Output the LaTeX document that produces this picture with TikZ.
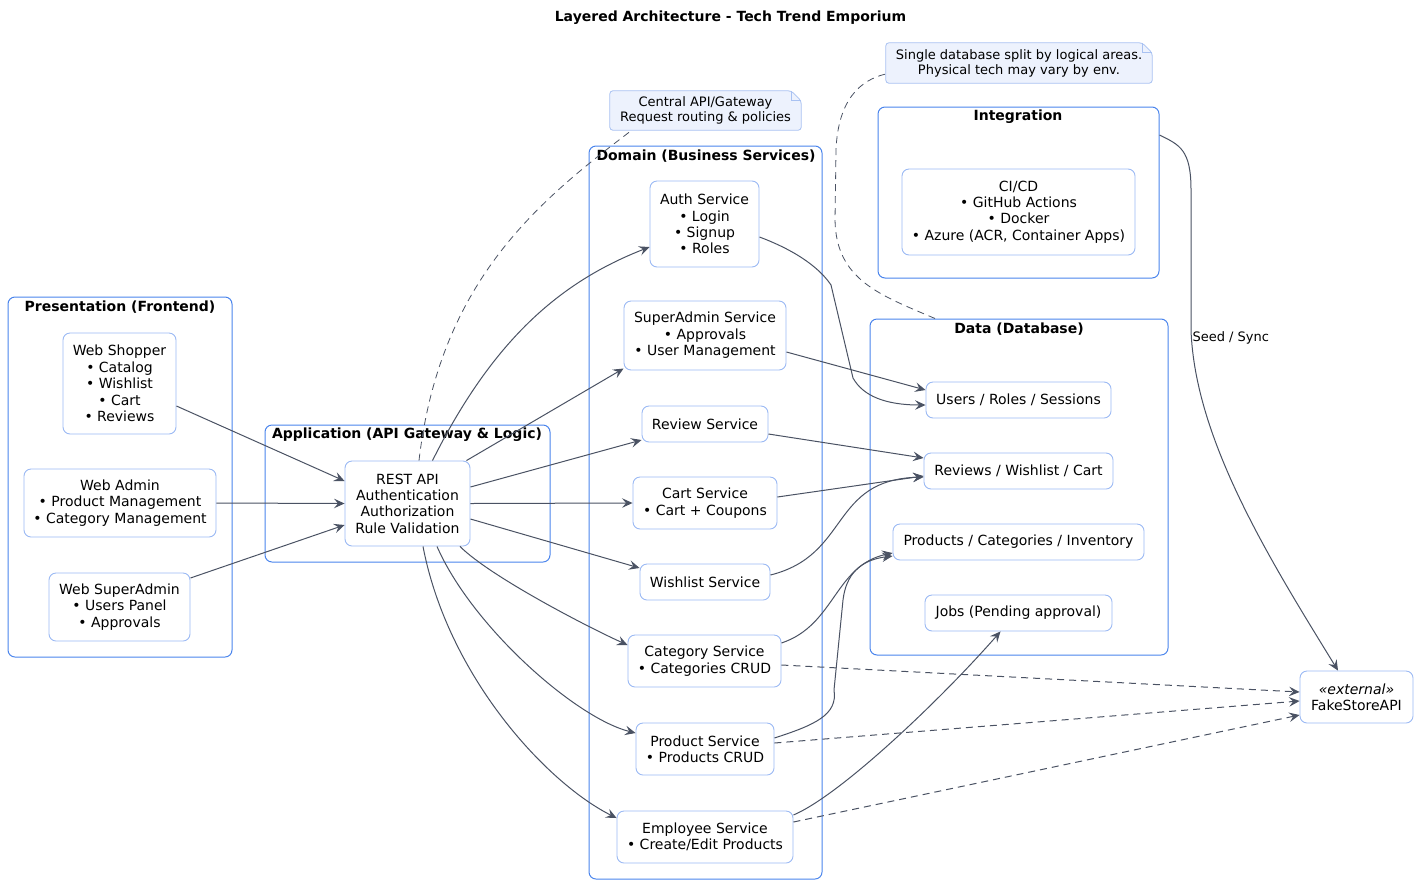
\documentclass[tikz,border=0pt]{standalone}
\usepackage{fontspec}
\setmainfont{DejaVu Sans}
\usetikzlibrary{arrows.meta,backgrounds}
\definecolor{clusterc}{HTML}{4A84EC}
\definecolor{nodec}{HTML}{9BB9F4}
\definecolor{notefill}{HTML}{EDF2FD}
\definecolor{notec}{HTML}{A9C2F2}
\definecolor{edgec}{HTML}{4A5263}
\newcommand{\notebox}[1]{%
  \path[notebg] (#1.north west) -- ([xshift=-10pt]#1.north east) -- ([yshift=-10pt]#1.north east) -- (#1.south east) -- (#1.south west) -- cycle;
  \draw[notec, line width=0.8pt] ([xshift=-10pt]#1.north east) -- ([xshift=-10pt,yshift=-10pt]#1.north east) -- ([yshift=-10pt]#1.north east);}
\begin{document}
\begin{tikzpicture}[x=1pt,y=-1pt,
  comp/.style={draw=nodec, line width=0.9pt, fill=white, rounded corners=7pt, align=center, inner sep=0pt, font=\fontsize{14}{16.4}\selectfont},
  cluster/.style={draw=clusterc, line width=1pt, rounded corners=7pt, inner sep=0pt},
  ctitle/.style={font=\bfseries\fontsize{14}{16.3}\selectfont, inner sep=0pt},
  notetext/.style={align=center, inner sep=0pt, font=\fontsize{13}{15.1}\selectfont},
  notebg/.style={draw=notec, fill=notefill, line width=0.8pt, rounded corners=3pt},
  conn/.style={draw=edgec, line width=1pt, -{Stealth[length=10.5pt,width=9.5pt,inset=4pt]}},
  depconn/.style={conn, dash pattern=on 7pt off 5pt},
  notelink/.style={draw=edgec, line width=0.8pt, dash pattern=on 7pt off 5pt},
  elabel/.style={font=\fontsize{13}{15}\selectfont, inner sep=1pt}
]
\useasboundingbox (0,0) rectangle (1418,884);

% title
\node[font=\bfseries\fontsize{14}{16}\selectfont, inner sep=0pt] (title) at (730.5,18) {Layered Architecture - Tech Trend Emporium};

% clusters
\node[cluster, minimum width=224pt, minimum height=360pt] (pres) at (120,477) {};
\node[ctitle] (prest) at (120,307) {Presentation (Frontend)};
\node[cluster, minimum width=285pt, minimum height=137pt] (app) at (407.5,493.5) {};
\node[ctitle] (appt) at (407,435) {Application (API Gateway \& Logic)};
\node[cluster, minimum width=233pt, minimum height=733pt] (dom) at (705.5,512.5) {};
\node[ctitle] (domt) at (706,156) {Domain (Business Services)};
\node[cluster, minimum width=281pt, minimum height=171pt] (integ) at (1018.5,192.5) {};
\node[ctitle] (integt) at (1018,117) {Integration};
\node[cluster, minimum width=298pt, minimum height=336pt] (data) at (1019,487) {};
\node[ctitle] (datat) at (1019,329) {Data (Database)};

% presentation
\node[comp, minimum width=113pt, minimum height=101pt] (shopper) at (119.5,383.5) {Web Shopper\\• Catalog\\• Wishlist\\• Cart\\• Reviews};
\node[comp, minimum width=192pt, minimum height=68pt] (admin) at (120,503) {Web Admin\\• Product Management\\• Category Management};
\node[comp, minimum width=141pt, minimum height=68pt] (sadmin) at (119.5,607) {Web SuperAdmin\\• Users Panel\\• Approvals};

% application
\node[comp, minimum width=125pt, minimum height=85pt] (rest) at (407.5,503.5) {REST API\\Authentication\\Authorization\\Rule Validation};

% domain
\node[comp, minimum width=109pt, minimum height=86pt] (auth) at (704.5,224) {Auth Service\\• Login\\• Signup\\• Roles};
\node[comp, minimum width=162pt, minimum height=69pt] (sadminsvc) at (705,335.5) {SuperAdmin Service\\• Approvals\\• User Management};
\node[comp, minimum width=126pt, minimum height=36pt] (review) at (705,424) {Review Service};
\node[comp, minimum width=144pt, minimum height=52pt] (cart) at (705,503) {Cart Service\\• Cart + Coupons};
\node[comp, minimum width=130pt, minimum height=36pt] (wish) at (705,582) {Wishlist Service};
\node[comp, minimum width=153pt, minimum height=52pt] (cat) at (704.5,661) {Category Service\\• Categories CRUD};
\node[comp, minimum width=138pt, minimum height=52pt] (prod) at (705,749) {Product Service\\• Products CRUD};
\node[comp, minimum width=176pt, minimum height=52pt] (emp) at (705,837) {Employee Service\\• Create/Edit Products};

% integration
\node[comp, minimum width=233pt, minimum height=86pt] (cicd) at (1018.5,212) {CI/CD\\• GitHub Actions\\• Docker\\• Azure (ACR, Container Apps)};

% data
\node[comp, minimum width=185pt, minimum height=36pt] (users) at (1018.5,400) {Users / Roles / Sessions};
\node[comp, minimum width=189pt, minimum height=36pt] (rwc) at (1018.5,471) {Reviews / Wishlist / Cart};
\node[comp, minimum width=251pt, minimum height=36pt] (pci) at (1018.5,542) {Products / Categories / Inventory};
\node[comp, minimum width=187pt, minimum height=36pt] (jobs) at (1018.5,613) {Jobs (Pending approval)};

% external
\node[comp, minimum width=113pt, minimum height=52pt] (fake) at (1356.5,697) {\textit{«external»}\\FakeStoreAPI};

% notes
\node[notetext, minimum width=191pt, minimum height=39pt] (note1) at (705.5,110.5) {Central API/Gateway\\Request routing \& policies};
\node[notetext, minimum width=266pt, minimum height=40pt] (note2) at (1019,63) {Single database split by logical areas.\\Physical tech may vary by env.};
\begin{scope}[on background layer]
\notebox{note1}
\notebox{note2}
\end{scope}

% presentation -> application
\draw[conn] ([yshift=-22.5pt]shopper.east) -- ([yshift=22.5pt]rest.west);
\draw[conn] (admin.east) -- (rest.west);
\draw[conn] ([yshift=29pt]sadmin.east) -- ([yshift=-21.5pt]rest.west);

% application -> domain
\draw[conn] ([xshift=25pt]rest.north) .. controls +(60,-120) and +(-90,35) .. ([yshift=-23pt]auth.west);
\draw[conn] ([xshift=-4pt]rest.north east) -- ([yshift=-33pt]sadminsvc.west);
\draw[conn] ([yshift=16.5pt]rest.east) -- ([yshift=-16pt]review.west);
\draw[conn] (rest.east) -- (cart.west);
\draw[conn] ([yshift=-15.5pt]rest.east) -- ([yshift=14pt]wish.west);
\draw[conn] ([xshift=52.5pt]rest.south) .. controls +(30,30) and +(-40,-18) .. ([yshift=16pt]cat.west);
\draw[conn] ([xshift=29.5pt]rest.south) .. controls +(35,80) and +(-60,-15) .. ([yshift=16pt]prod.west);
\draw[conn] ([xshift=15.5pt]rest.south) .. controls +(25,130) and +(-70,-35) .. ([yshift=19pt]emp.west);

% domain -> data
\draw[conn] ([yshift=-13pt]auth.east) .. controls +(40,15) and +(-10,-15) .. (831,285) -- (853,378) .. controls +(10,18) and +(-40,0) .. ([yshift=-5pt]users.west);
\draw[conn] ([yshift=-16.5pt]sadminsvc.east) -- ([yshift=10pt]users.west);
\draw[conn] ([yshift=-10pt]review.east) -- ([yshift=13pt]rwc.west);
\draw[conn] ([yshift=6pt]cart.east) -- ([yshift=-5pt]rwc.west);
\draw[conn] ([yshift=7pt]wish.east) .. controls +(80,-20) and +(-94,3) .. ([yshift=-6pt]rwc.west);
\draw[conn] ([yshift=18pt]cat.east) .. controls +(54,-18) and +(-58,12) .. ([yshift=-11pt]pci.west);
\draw[conn] ([yshift=11pt]prod.east) .. controls +(40,-13) and +(4,25) .. (834,690) -- (843,600) .. controls +(3,-25) and +(-33,4) .. ([yshift=-14pt]pci.west);
\draw[conn] ([yshift=22pt]emp.east) .. controls +(47,-20) and +(-60.5,69) .. ([xshift=-18pt]jobs.south);

% domain -> external
\draw[depconn] ([yshift=-4pt]cat.east) -- ([yshift=5pt]fake.west);
\draw[depconn] ([yshift=6pt]prod.east) -- ([yshift=-4pt]fake.west);
\draw[depconn] ([yshift=15pt]emp.east) -- ([yshift=-18pt]fake.west);

% integration -> external
\draw[conn] ([yshift=57.5pt]integ.east) .. controls (1180,145) and (1191,150) .. (1191,190) -- (1191,330) node[elabel, anchor=north west] (seedlbl) {Seed / Sync} .. controls (1195,440) and (1270,560) .. ([xshift=-18.5pt]fake.north);

% note links
\draw[notelink] ([xshift=11.5pt]rest.north) .. controls (440,280) and (540,200) .. ([xshift=22pt]note1.south west);
\draw[notelink] ([xshift=-84pt]data.north) .. controls (880,295) and (836,280) .. (835,220) -- (836,150) .. controls (838,100) and (860,80) .. ([yshift=-11pt]note2.west);
\end{tikzpicture}
\end{document}
